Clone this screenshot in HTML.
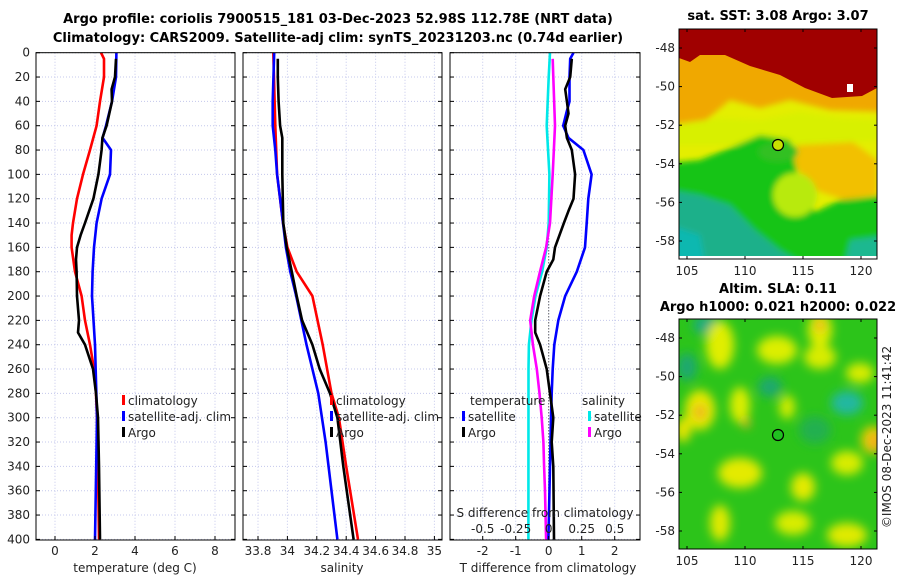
<!DOCTYPE html>
<html><head><meta charset="utf-8"><style>
body{margin:0;background:#fff;width:900px;height:580px;overflow:hidden}
svg text{font-family:"DejaVu Sans","Liberation Sans",sans-serif;fill:#222}
.t{font-size:12px}.b{font-size:13px;font-weight:bold;fill:#000}
</style></head><body>
<svg id="chart" width="900" height="580" xmlns="http://www.w3.org/2000/svg">
<defs>
<filter id="bl"><feGaussianBlur stdDeviation="3"/></filter>
<filter id="bl2"><feGaussianBlur stdDeviation="5"/></filter>
<clipPath id="c1"><rect x="679" y="29" width="198" height="230"/></clipPath>
<clipPath id="c2"><rect x="679" y="319" width="198" height="230"/></clipPath>
</defs>
<text class="b" x="338" y="23" text-anchor="middle">Argo profile: coriolis 7900515_181 03-Dec-2023 52.98S 112.78E (NRT data)</text>
<text class="b" x="338" y="42" text-anchor="middle">Climatology: CARS2009. Satellite-adj clim: synTS_20231203.nc (0.74d earlier)</text>
<g id="grids"></g>
<g id="lines"></g>
<g id="frames"></g>

<!-- SST map -->
<text class="b" x="778" y="20" text-anchor="middle">sat. SST: 3.08 Argo: 3.07</text>
<g clip-path="url(#c1)">
<rect x="679" y="29" width="198" height="230" fill="#e4ee00"/>
<g filter="url(#bl)">
<polygon fill="#f0a800" points="670,20 890,20 890,112 830,110 790,100 760,108 730,100 700,125 670,130"/>
<polygon fill="#f2c000" points="800,140 850,140 877,160 877,195 845,200 815,190 790,160"/>
<polygon fill="#d8f000" points="670,125 720,118 760,120 800,112 840,118 890,120 890,140 800,145 670,145"/>
<polygon fill="#14c414" points="670,163 700,160 730,148 760,135 790,140 800,185 815,212 840,200 890,195 890,270 670,270"/>
<ellipse cx="778" cy="152" rx="20" ry="10" fill="#30c020"/>
<ellipse cx="795" cy="195" rx="22" ry="22" fill="#b8ea10"/>
<polygon fill="#1eb08a" points="670,190 700,195 730,205 755,230 780,250 800,262 670,270"/>
<polygon fill="#10b8b0" points="670,225 700,235 705,262 670,262"/>
<polygon fill="#1ab890" points="850,240 890,235 890,262 845,262"/>
</g>
<polygon fill="#a00000" points="679,29 877,29 877,88 862,96 832,98 805,88 780,75 750,66 725,55 700,55 690,62 679,58"/>
<rect x="847" y="84" width="6" height="8" fill="#fff"/>
<rect x="679" y="256" width="198" height="3" fill="#fff"/>
<circle cx="778" cy="145" r="5.5" fill="#c8e000" stroke="#000" stroke-width="1.2"/>
</g>
<rect x="679" y="29" width="198" height="230" fill="none" stroke="#000"/>

<!-- SLA map -->
<text class="b" x="778" y="293" text-anchor="middle">Altim. SLA: 0.11</text>
<text class="b" x="778" y="311" text-anchor="middle">Argo h1000: 0.021 h2000: 0.022</text>
<g clip-path="url(#c2)">
<rect x="679" y="319" width="198" height="230" fill="#2cc41a"/>
<g filter="url(#bl2)">
<ellipse cx="707" cy="325" rx="14" ry="10" fill="#1aaa80"/>
<ellipse cx="687" cy="367" rx="10" ry="14" fill="#1aa870"/>
<ellipse cx="770" cy="387" rx="12" ry="10" fill="#1aa870"/>
<ellipse cx="847" cy="403" rx="16" ry="12" fill="#20b8a0"/>
<ellipse cx="815" cy="430" rx="16" ry="14" fill="#22b050"/>
<ellipse cx="720" cy="345" rx="14" ry="24" fill="#e0ee00"/>
<ellipse cx="777" cy="350" rx="20" ry="14" fill="#dcee00"/>
<ellipse cx="820" cy="330" rx="12" ry="18" fill="#e0ee00"/>
<ellipse cx="820" cy="357" rx="16" ry="12" fill="#d8ec00"/>
<ellipse cx="700" cy="410" rx="15" ry="20" fill="#e8e800"/>
<ellipse cx="740" cy="405" rx="10" ry="18" fill="#dcee00"/>
<ellipse cx="683" cy="430" rx="8" ry="12" fill="#e8e400"/>
<ellipse cx="873" cy="440" rx="12" ry="14" fill="#eecc00"/>
<ellipse cx="740" cy="473" rx="22" ry="15" fill="#e4ea00"/>
<ellipse cx="803" cy="487" rx="12" ry="14" fill="#e4ea00"/>
<ellipse cx="847" cy="463" rx="16" ry="12" fill="#d8ec00"/>
<ellipse cx="720" cy="523" rx="10" ry="18" fill="#e0ea00"/>
<ellipse cx="793" cy="523" rx="18" ry="12" fill="#d8ec00"/>
<ellipse cx="847" cy="535" rx="20" ry="12" fill="#e0ea00"/>
<ellipse cx="860" cy="373" rx="14" ry="10" fill="#d8ec00"/>
<ellipse cx="787" cy="407" rx="8" ry="12" fill="#d0ec00"/>
<ellipse cx="820" cy="325" rx="4" ry="7" fill="#f0a020"/>
<ellipse cx="700" cy="412" rx="5" ry="7" fill="#f0a020"/>
<ellipse cx="875" cy="442" rx="5" ry="8" fill="#f0a020"/>
<ellipse cx="746" cy="423" rx="4" ry="5" fill="#f0b020"/>
</g>
<circle cx="778" cy="435" r="5.5" fill="#20c020" stroke="#000" stroke-width="1.2"/>
</g>
<rect x="679" y="319" width="198" height="230" fill="none" stroke="#000"/>
<g id="mapaxes"></g>
<text class="t" transform="translate(891,437) rotate(-90)" text-anchor="middle">©IMOS 08-Dec-2023 11:41:42</text>
</svg>
<script>
const depthTicks=[0,20,40,60,80,100,120,140,160,180,200,220,240,260,280,300,320,340,360,380,400];
const tempTicks=[0,2,4,6,8];
const salTicks=[33.8,34,34.2,34.4,34.6,34.8,35];
const salTickLabels=['33.8','34','34.2','34.4','34.6','34.8','35'];
const tdTicks=[-2,-1,0,1,2];
const sdTicks=[-0.5,-0.25,0,0.25,0.5];
const lonTicks=[105,110,115,120];
const latTicks=[-48,-50,-52,-54,-56,-58];

const climDepth=[0,5,20,40,60,80,100,120,140,150,160,180,200,220,240,260,280,300,340,400];
const climTemp=[2.3,2.45,2.45,2.25,2.08,1.75,1.4,1.1,0.9,0.83,0.83,1.0,1.33,1.5,1.75,1.95,2.05,2.1,2.15,2.2];
const satDepth=[0,20,40,60,70,80,100,120,140,160,180,200,240,300,400];
const satTemp=[3.07,3.05,2.85,2.55,2.38,2.8,2.75,2.33,2.08,1.95,1.88,1.85,2.0,2.1,2.0];
const argoDepth=[5,20,30,40,60,70,80,100,120,140,150,160,170,180,200,220,230,240,260,280,300,340,400];
const argoTemp=[3.05,3.0,2.83,2.85,2.58,2.37,2.33,2.17,1.92,1.5,1.28,1.1,1.05,1.08,1.1,1.2,1.15,1.5,1.9,2.05,2.15,2.2,2.25];

const climSDepth=[0,60,100,140,160,180,200,240,280,300,340,400];
const climSal=[33.904,33.918,33.93,33.97,34.0,34.063,34.17,34.24,34.30,34.35,34.40,34.48];
const satSDepth=[0,40,60,80,100,120,140,160,180,200,240,280,320,360,400];
const satSal=[33.91,33.90,33.9,33.918,33.93,33.95,33.97,33.99,34.02,34.06,34.13,34.21,34.26,34.30,34.34];
const argoSDepth=[5,20,40,60,70,100,140,160,180,200,220,240,260,280,300,340,400];
const argoSal=[33.935,33.935,33.94,33.95,33.965,33.965,33.972,33.995,34.03,34.063,34.10,34.17,34.22,34.29,34.34,34.38,34.45];

const tdSatDepth=[0,5,20,40,50,60,70,80,100,120,140,160,180,200,220,240,260,280,300,340,400];
const tdSat=[0.75,0.65,0.63,0.63,0.53,0.44,0.6,1.05,1.3,1.2,1.15,1.1,0.85,0.5,0.29,0.17,0.12,0.09,0.07,0.04,-0.01];
const tdArgoDepth=[5,20,30,40,50,60,70,80,100,120,130,140,160,170,180,200,220,230,240,260,280,300,320,340,400];
const tdArgo=[0.7,0.65,0.5,0.55,0.6,0.5,0.55,0.7,0.8,0.75,0.6,0.46,0.19,0.14,-0.06,-0.26,-0.41,-0.41,-0.26,-0.06,0.04,0.14,0.09,0.14,0.16];
const sdSatDepth=[0,20,60,100,140,160,180,200,220,240,260,400];
const sdSat=[0.01,0,-0.015,0.005,0,-0.015,-0.05,-0.1,-0.13,-0.15,-0.153,-0.154];
const sdArgoDepth=[5,20,60,100,140,160,180,200,220,240,260,280,300,320,340,360,400];
const sdArgo=[0.03,0.035,0.048,0.03,0.01,-0.02,-0.066,-0.11,-0.14,-0.12,-0.09,-0.07,-0.053,-0.04,-0.035,-0.028,-0.02];

const NS='http://www.w3.org/2000/svg';
const yD=d=>52.7+d*1.2167;
const xT=t=>55+20*t;
const xS=s=>258+(s-33.8)*147;
const xTd=t=>548.7+33*t;
const xSd=s=>548.7+132*s;
const xLon=l=>687+(l-105)*11.6;
const yLat1=l=>48+(-48-l)*19.3;
const yLat2=l=>338+(-48-l)*19.3;
const P=[{x0:36,x1:235},{x0:243,x1:442},{x0:450,x1:640}];
function mk(tag,at,parent){const e=document.createElementNS(NS,tag);for(const k in at)e.setAttribute(k,at[k]);parent.appendChild(e);return e;}
const G=document.getElementById('grids'),L=document.getElementById('lines'),F=document.getElementById('frames'),M=document.getElementById('mapaxes');
function gl(x1,y1,x2,y2){const e=mk('line',{x1,y1,x2,y2,stroke:'#c4c8ec','stroke-width':1,'stroke-dasharray':'1,2'},G);

}
function txt(x,y,s,anchor,parent,name){const e=mk('text',{x,y,'class':'t','text-anchor':anchor},parent);e.textContent=s;

return e;}
P.forEach((p,i)=>{depthTicks.forEach(d=>{gl(p.x0,yD(d),p.x1,yD(d));
mk('line',{x1:p.x0,y1:yD(d),x2:p.x0+4,y2:yD(d),stroke:'#000'},F);mk('line',{x1:p.x1,y1:yD(d),x2:p.x1-4,y2:yD(d),stroke:'#000'},F);});});
depthTicks.forEach(d=>txt(30,yD(d)+4,String(d),'end',F,'y-tick-label'));
tempTicks.forEach(t=>{gl(xT(t),52.7,xT(t),540);txt(xT(t),555,String(t),'middle',F,'x-tick-label-temp');mk('line',{x1:xT(t),y1:540,x2:xT(t),y2:536,stroke:'#000'},F);});
salTicks.forEach((s,i)=>{gl(xS(s),52.7,xS(s),540);txt(xS(s),555,salTickLabels[i],'middle',F,'x-tick-label-salinity');mk('line',{x1:xS(s),y1:540,x2:xS(s),y2:536,stroke:'#000'},F);});
tdTicks.forEach(t=>{gl(xTd(t),52.7,xTd(t),540);txt(xTd(t),555,String(t),'middle',F,'x-tick-label-tdiff');mk('line',{x1:xTd(t),y1:540,x2:xTd(t),y2:536,stroke:'#000'},F);});
sdTicks.forEach(s=>{txt(xSd(s),533,String(s),'middle',F,'s-diff-tick-label');});
txt(545,517,'S difference from climatology','middle',F,'s-diff-axis-title');
txt(135,572,'temperature (deg C)','middle',F,'x-axis-title-temperature');
txt(342,572,'salinity','middle',F,'x-axis-title-salinity');
txt(548,572,'T difference from climatology','middle',F,'x-axis-title-tdiff');
P.forEach((p,i)=>{const r=mk('rect',{x:p.x0,y:52.7,width:p.x1-p.x0,height:487.3,fill:'none',stroke:'#000'},F);

});
mk('line',{x1:xTd(0),y1:yD(150),x2:xTd(0),y2:540,stroke:'#333','stroke-dasharray':'1,2'},L);
function series(xs,ds,fx,color,name){const pts=xs.map((v,i)=>fx(v).toFixed(1)+','+yD(ds[i]).toFixed(1)).join(' ');
const e=mk('polyline',{points:pts,fill:'none',stroke:color,'stroke-width':2.6,'stroke-linejoin':'round'},L);

}
series(climTemp,climDepth,xT,'#f00','temp-climatology-line');
series(satTemp,satDepth,xT,'#00f','temp-satellite-line');
series(argoTemp,argoDepth,xT,'#000','temp-argo-line');
series(climSal,climSDepth,xS,'#f00','sal-climatology-line');
series(satSal,satSDepth,xS,'#00f','sal-satellite-line');
series(argoSal,argoSDepth,xS,'#000','sal-argo-line');
series(sdSat,sdSatDepth,xSd,'#00e8e8','sdiff-satellite-line');
series(sdArgo,sdArgoDepth,xSd,'#f0f','sdiff-argo-line');
series(tdSat,tdSatDepth,xTd,'#00f','tdiff-satellite-line');
series(tdArgo,tdArgoDepth,xTd,'#000','tdiff-argo-line');
function leg(x,y,color,label){if(color){const r=mk('rect',{x:x,y:y-10,width:3,height:10,fill:color},L);

}
txt(x+6,y,label,'start',L,'legend-entry');}
leg(122,405,'#f00','climatology');leg(122,421,'#00f','satellite-adj. clim');leg(122,437,'#000','Argo');
leg(330,405,'#f00','climatology');leg(330,421,'#00f','satellite-adj. clim');leg(330,437,'#000','Argo');
txt(470,405,'temperature','start',L,'legend-title-temperature');
leg(462,421,'#00f','satellite');leg(462,437,'#000','Argo');
txt(582,405,'salinity','start',L,'legend-title-salinity');
leg(588,421,'#00e8e8','satellite');leg(588,437,'#f0f','Argo');
[[29,259,yLat1],[319,549,yLat2]].forEach(([y0,y1,fy])=>{
lonTicks.forEach(l=>{txt(xLon(l),y1+16,String(l),'middle',M,'map-lon-tick-label');
mk('line',{x1:xLon(l),y1:y1,x2:xLon(l),y2:y1-3,stroke:'#000'},M);mk('line',{x1:xLon(l),y1:y0,x2:xLon(l),y2:y0+3,stroke:'#000'},M);});
latTicks.forEach(l=>{txt(675,fy(l)+4,String(l),'end',M,'map-lat-tick-label');
mk('line',{x1:679,y1:fy(l),x2:682,y2:fy(l),stroke:'#000'},M);mk('line',{x1:877,y1:fy(l),x2:874,y2:fy(l),stroke:'#000'},M);});});
</script>
</body></html>
